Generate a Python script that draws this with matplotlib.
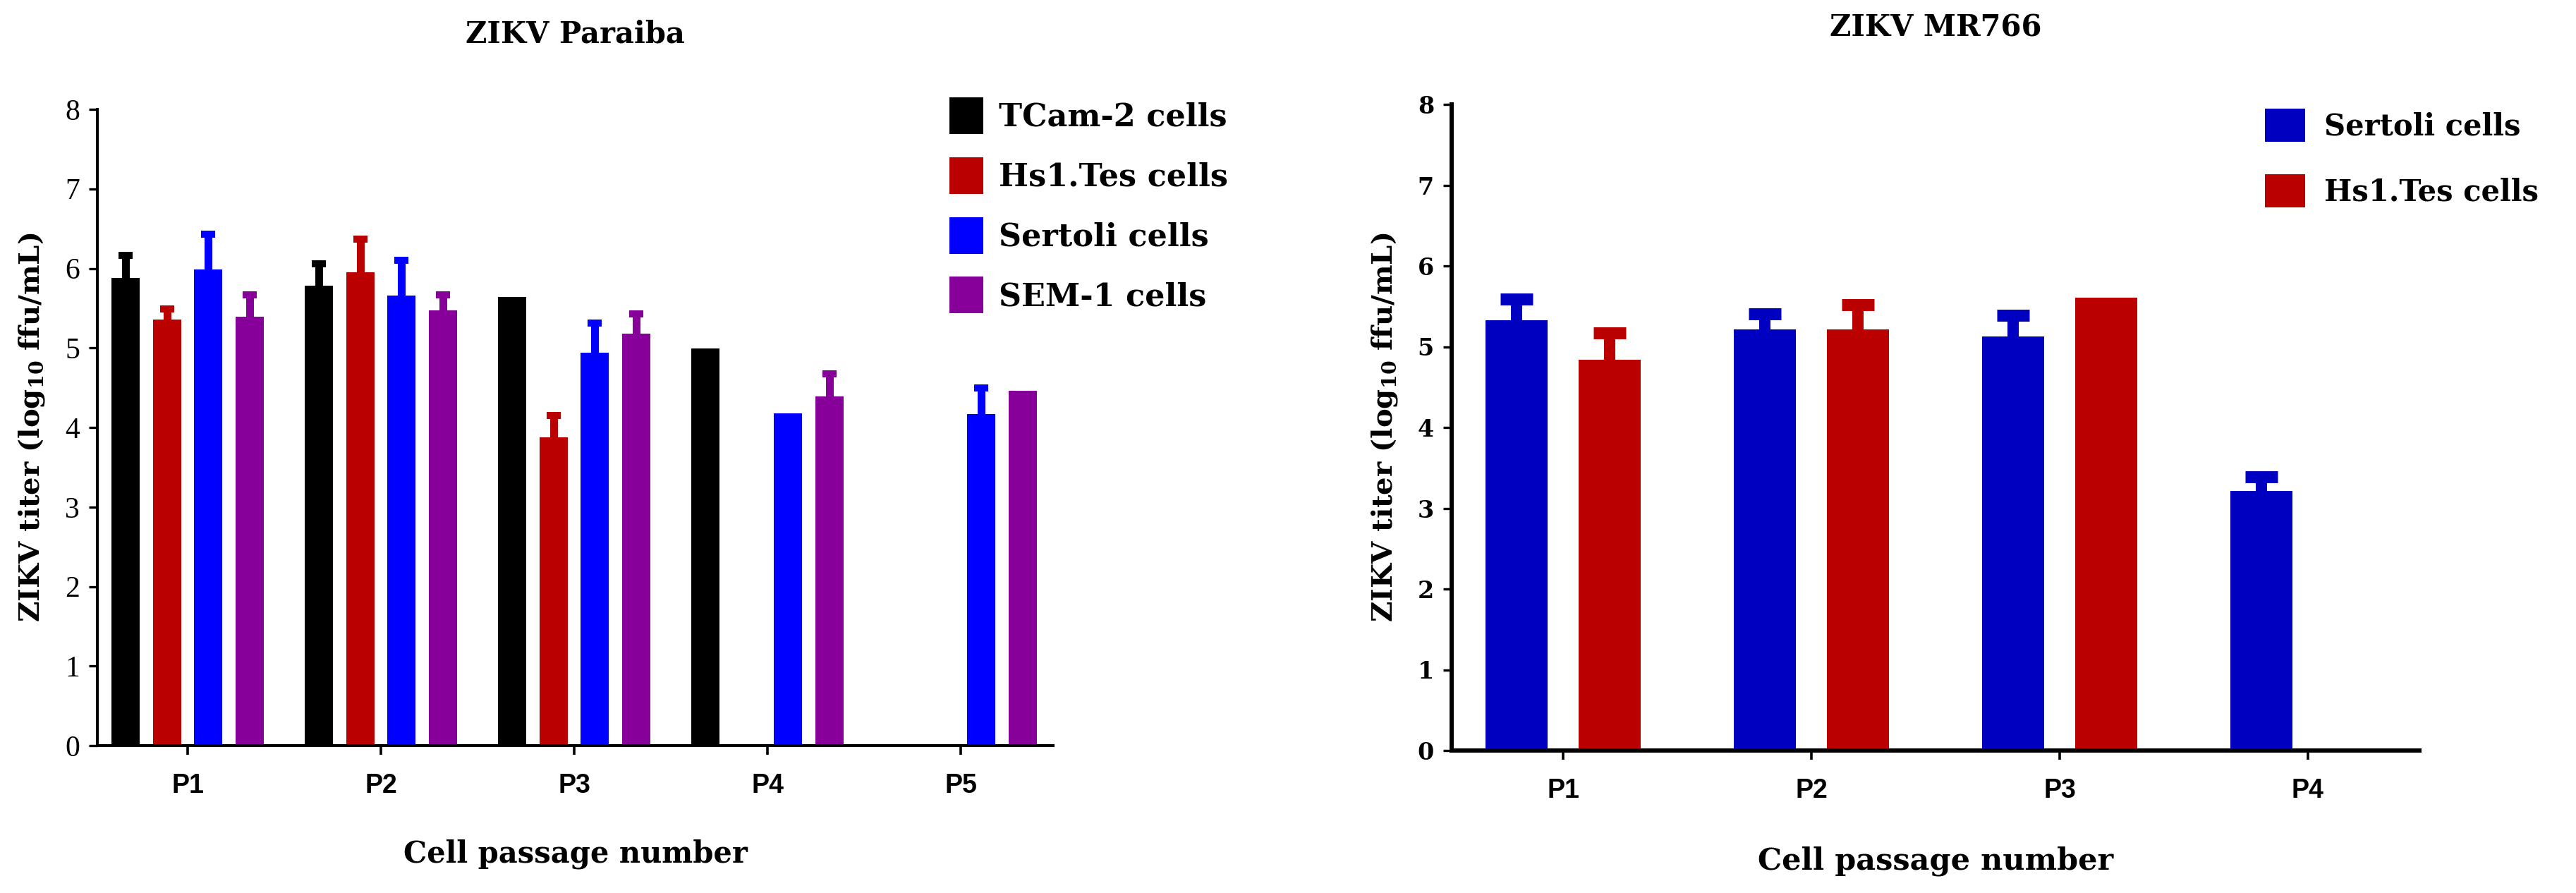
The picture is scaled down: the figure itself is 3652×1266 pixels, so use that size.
import numpy as np
import matplotlib
matplotlib.use("Agg")
import matplotlib.pyplot as plt

nan = np.nan

# ---------------- data: ZIKV Paraiba ----------------
passages_left = ["P1", "P2", "P3", "P4", "P5"]
tcam2 = [5.88, 5.78, 5.64, 4.99, nan]
tcam2_err = [0.28, 0.28, nan, nan, nan]
hs1tes = [5.36, 5.95, 3.88, nan, nan]
hs1tes_err = [0.13, 0.42, 0.27, nan, nan]
sertoli = [5.99, 5.66, 4.94, 4.18, 4.17]
sertoli_err = [0.44, 0.44, 0.37, nan, 0.33]
sem1 = [5.39, 5.47, 5.18, 4.39, 4.46]
sem1_err = [0.28, 0.20, 0.25, 0.28, nan]
labels_left = ["TCam-2 cells", "Hs1.Tes cells", "Sertoli cells", "SEM-1 cells"]

# ---------------- data: ZIKV MR766 ----------------
passages_right = ["P1", "P2", "P3", "P4"]
sertoli_mr = [5.33, 5.21, 5.13, 3.21]
sertoli_mr_err = [0.26, 0.20, 0.26, 0.18]
hs1tes_mr = [4.84, 5.21, 5.61, nan]
hs1tes_mr_err = [0.33, 0.31, nan, nan]
labels_right = ["Sertoli cells", "Hs1.Tes cells"]

yticks = [0, 1, 2, 3, 4, 5, 6, 7, 8]

colors_left = ["#000000", "#BB0000", "#0000FF", "#88009A"]
colors_right = ["#0000C0", "#BB0000"]

SERIF = "DejaVu Serif"
W, H = 3652, 1266
fig = plt.figure(figsize=(W / 100, H / 100), dpi=100)
plt.rcParams["mathtext.fontset"] = "dejavuserif"


def px_axes(x0, x1, y0, y1):
    return fig.add_axes([x0 / W, 1 - y1 / H, (x1 - x0) / W, (y1 - y0) / H])


def style_axes(ax, spine_w, tick_font, tick_size, tick_weight):
    for s in ["top", "right"]:
        ax.spines[s].set_visible(False)
    for s in ["left", "bottom"]:
        ax.spines[s].set_linewidth(spine_w)
    ax.set_ylim(0, 8)
    ax.set_yticks(yticks)
    ax.tick_params(axis="y", length=9, width=2.4, pad=9)
    ax.tick_params(axis="x", length=9, width=2.6, pad=19)
    for lab in ax.get_yticklabels():
        lab.set_fontfamily(tick_font)
        lab.set_fontsize(tick_size)
        lab.set_fontweight(tick_weight)
    for lab in ax.get_xticklabels():
        lab.set_fontfamily("Liberation Sans")
        lab.set_fontsize(27)
        lab.set_fontweight("bold")


def draw_bars(ax, x, series, errs, colors, width, offsets, elw, capsize, capthick):
    handles = []
    for vals, err, col, off in zip(series, errs, colors, offsets):
        vals = np.array(vals, dtype=float)
        err = np.array(err, dtype=float)
        b = ax.bar(x + off, vals, width=width, color=col, zorder=2)
        # upper-only error bar: stem from bar top, cap only at the top
        ax.errorbar(x + off, vals, yerr=[np.zeros_like(err), err], fmt="none",
                    ecolor=col, elinewidth=elw, capsize=0, zorder=1)
        ax.plot(x + off, vals + err, linestyle="none", marker="_",
                markersize=2 * capsize, markeredgewidth=capthick,
                color=col, zorder=1)
        handles.append(b)
    return handles


# ---------------- left panel ----------------
axL = px_axes(138, 1493, 155, 1057)
xl = np.arange(len(passages_left))
step = 0.215
offsL = [-1.5 * step, -0.5 * step, 0.5 * step, 1.5 * step]
hL = draw_bars(axL, xl, [tcam2, hs1tes, sertoli, sem1],
               [tcam2_err, hs1tes_err, sertoli_err, sem1_err],
               colors_left, 0.146, offsL, 7.9, 7.2, 7.2)
axL.set_xlim(-0.467, 4.478)
axL.set_xticks(xl)
axL.set_xticklabels(passages_left)
style_axes(axL, 2.9, "Liberation Serif", 30, "normal")
axL.set_title("ZIKV Paraiba", fontfamily=SERIF, fontsize=30, fontweight="bold",
              y=1.109, va="center")
axL.set_xlabel("Cell passage number", fontfamily=SERIF, fontsize=30,
               fontweight="bold", va="center")
axL.xaxis.set_label_coords(0.5, -0.171)
axL.set_ylabel(r"ZIKV titer (log$_{\mathbf{10}}$ ffu/mL)", fontfamily=SERIF,
               fontsize=29, fontweight="bold", va="center")
axL.yaxis.set_label_coords(-0.0686, 0.5)

fsL = 32 * 100 / 72
axL.legend(hL, labels_left, loc="upper left",
           bbox_to_anchor=(1346 / W, 1 - 138 / H), bbox_transform=fig.transFigure,
           frameon=False, borderpad=0, borderaxespad=0,
           handlelength=48 / fsL, handleheight=1.42, labelspacing=0.74,
           handletextpad=0.5,
           prop={"family": SERIF, "weight": "bold", "size": 32})

# ---------------- right panel ----------------
axR = px_axes(2058, 3430, 148, 1064)
xr = np.arange(len(passages_right))
offsR = [-0.1875, 0.1875]
hR = draw_bars(axR, xr, [sertoli_mr, hs1tes_mr], [sertoli_mr_err, hs1tes_mr_err],
               colors_right, 0.25, offsR, 11.5, 16.9, 12.2)
axR.set_xlim(-0.449, 3.449)
axR.set_xticks(xr)
axR.set_xticklabels(passages_right)
style_axes(axR, 4.3, SERIF, 24, "bold")
axR.set_title("ZIKV MR766", fontfamily=SERIF, fontsize=30, fontweight="bold",
              y=1.109, va="center")
axR.set_xlabel("Cell passage number", fontfamily=SERIF, fontsize=31,
               fontweight="bold", va="center")
axR.xaxis.set_label_coords(0.5, -0.171)
axR.set_ylabel(r"ZIKV titer (log$_{\mathbf{10}}$ ffu/mL)", fontfamily=SERIF,
               fontsize=29, fontweight="bold", va="center")
axR.yaxis.set_label_coords(-0.0692, 0.5)

fsR = 30 * 100 / 72
axR.legend(hR, labels_right, loc="upper left",
           bbox_to_anchor=(3211 / W, 1 - 154 / H), bbox_transform=fig.transFigure,
           frameon=False, borderpad=0, borderaxespad=0,
           handlelength=57 / fsR, handleheight=1.36, labelspacing=1.10,
           handletextpad=0.65,
           prop={"family": SERIF, "weight": "bold", "size": 30})

fig.savefig("out.png", dpi=100)
